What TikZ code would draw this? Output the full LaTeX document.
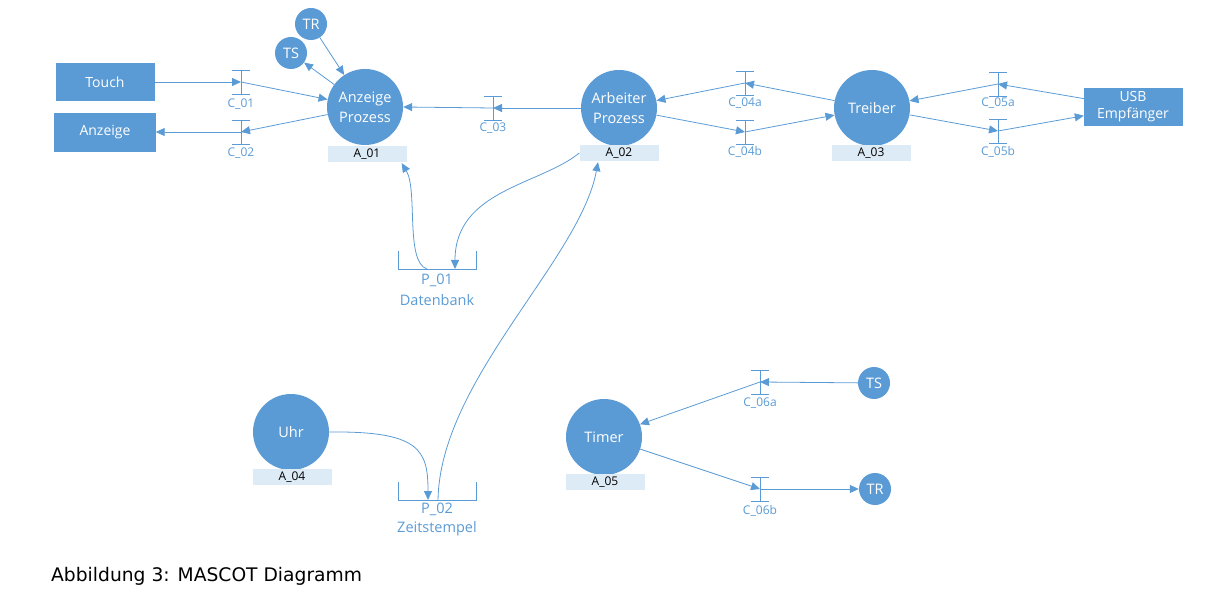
\documentclass[tikz,border=0pt]{standalone}
\usepackage{fontspec}
\setmainfont{Open Sans}
\newfontfamily\capfont{DejaVu Sans}
\usetikzlibrary{arrows.meta}
\definecolor{mblue}{HTML}{5B9BD5}
\definecolor{tagfill}{HTML}{DDEBF7}
\begin{document}
\begin{tikzpicture}[x=1pt,y=-1pt,
  proc/.style={circle, fill=mblue, minimum size=76pt, inner sep=0pt, text=white, align=center, font=\fontsize{14.5}{20}\selectfont},
  sproc/.style={circle, fill=mblue, minimum size=32pt, inner sep=0pt, text=white, font=\fontsize{14.5}{16}\selectfont},
  term/.style={rectangle, fill=mblue, draw=mblue, minimum width=98pt, minimum height=37pt, inner sep=0pt, text=white, align=center, font=\fontsize{14}{17}\selectfont},
  tag/.style={rectangle, fill=tagfill, minimum width=79pt, minimum height=16pt, inner sep=0pt, font=\fontsize{12}{14}\selectfont},
  clab/.style={text=mblue, inner sep=0pt, font=\fontsize{12}{14}\selectfont},
  plab/.style={text=mblue, inner sep=0pt, font=\fontsize{14.5}{17}\selectfont},
  flow/.style={draw=mblue, line width=0.8pt, -{Triangle[length=9pt,width=8pt]}},
  line/.style={draw=mblue, line width=0.8pt},
  chanpic/.pic={\draw[mblue, line width=0.8pt] (-9,-12) -- (9,-12) (0,-12) -- (0,12) (-9,12) -- (9,12);}
]
\useasboundingbox (0,0) rectangle (1206,601);

% terminators
\node[term] (touch) at (105,82) {Touch};
\node[term, minimum width=101pt, minimum height=38pt] (anz) at (105,132) {Anzeige};
\node[term] (usb) at (1133,107) {USB\\Empfänger};

% processes
\node[proc] (ap) at (365,107) {Anzeige\\Prozess};
\node[tag] (a01) at (367,154) {A\_01};
\node[proc] (arb) at (619,108) {Arbeiter\\Prozess};
\node[tag] (a02) at (619,153) {A\_02};
\node[proc] (trb) at (872,108) {Treiber};
\node[tag] (a03) at (871,153) {A\_03};
\node[proc] (uhr) at (291,432) {Uhr};
\node[tag] (a04) at (292,477) {A\_04};
\node[proc] (tim) at (604,437) {Timer};
\node[tag] (a05) at (605,482) {A\_05};

\node[sproc] (tr1) at (311,24) {TR};
\node[sproc] (ts1) at (291,53) {TS};
\node[sproc] (ts2) at (874,383) {TS};
\node[sproc] (tr2) at (875,489) {TR};

% channels
\coordinate (c01) at (241,82);
\coordinate (c02) at (241,132);
\coordinate (c03) at (493,108);
\coordinate (c04a) at (745,83);
\coordinate (c04b) at (745,132);
\coordinate (c05a) at (998,84);
\coordinate (c05b) at (998,131);
\coordinate (c06a) at (760,382);
\coordinate (c06b) at (760,489);
\foreach \c in {c01,c02,c03,c04a,c04b,c05a,c05b,c06a,c06b} {\pic at (\c) {chanpic};}
\node[clab] (lc01) at (241,104) {C\_01};
\node[clab] (lc02) at (241,153) {C\_02};
\node[clab] (lc03) at (493,128) {C\_03};
\node[clab] (lc04a) at (745,103) {C\_04a};
\node[clab] (lc04b) at (745,152) {C\_04b};
\node[clab] (lc05a) at (998,103) {C\_05a};
\node[clab] (lc05b) at (998,152) {C\_05b};
\node[clab] (lc06a) at (760,403) {C\_06a};
\node[clab] (lc06b) at (760,511) {C\_06b};

% pools
\draw[line] (398,251) -- (398,269) -- (476,269) -- (476,251);
\coordinate (p01a) at (427,269);
\coordinate (p01b) at (455,269);
\node[plab] (lp01) at (437,280) {P\_01};
\node[plab] (ldb) at (437,300) {Datenbank};
\draw[line] (398,482) -- (398,500) -- (476,500) -- (476,482);
\coordinate (p02a) at (428,500);
\coordinate (p02b) at (438,500);
\node[plab] (lp02) at (437,509) {P\_02};
\node[plab] (lzs) at (437,529) {Zeitstempel};

% connectors
\draw[flow] (touch) -- (c01);
\draw[flow] (c01) -- (ap);
\draw[flow] (ap) -- (c02);
\draw[flow] (c02) -- (anz);
\draw[flow] (tr1) -- (ap);
\draw[flow] (ap) -- (ts1);
\draw[flow] (arb.west) -- (c03);
\draw[flow] (c03) -- (ap.east);
\draw[flow] (trb) -- (c04a);
\draw[flow] (c04a) -- (arb);
\draw[flow] (arb) -- (c04b);
\draw[flow] (c04b) -- (trb);
\draw[flow] (usb) -- (c05a);
\draw[flow] (c05a) -- (trb);
\draw[flow] (trb) -- (c05b);
\draw[flow] (c05b) -- (usb);
\draw[flow] (ts2) -- (c06a);
\draw[flow] (c06a) -- (tim);
\draw[flow] (tim) -- (c06b);
\draw[flow] (c06b) -- (tr2);

\draw[flow] (p01a) .. controls (405,262) and (418,190) .. ([xshift=-5pt,yshift=-1pt]a01.south east);
\draw[flow] (a02.west) .. controls (540,185) and (455,190) .. (p01b);
\draw[flow] (uhr.east) .. controls (420,431) and (428,450) .. (p02a);
\draw[flow] (p02b) .. controls (440,380) and (580,260) .. ([xshift=-21pt,yshift=-1pt]a02.south);

% caption
\node[anchor=west, inner sep=0pt, font=\capfont\fontsize{18.7}{22}\selectfont] (cap) at (51,576) {Abbildung 3: MASCOT Diagramm};
\end{tikzpicture}
\end{document}
